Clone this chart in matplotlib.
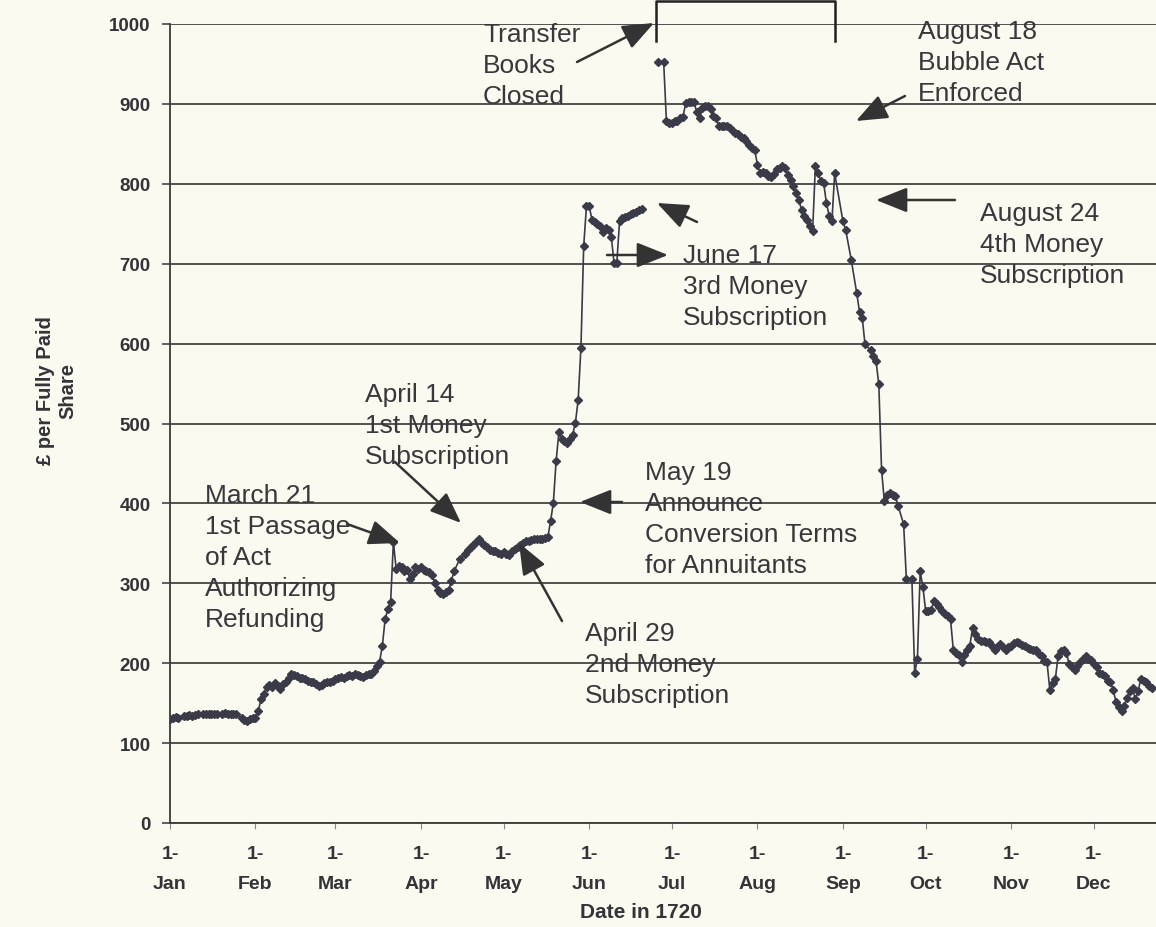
import numpy as np
import matplotlib
matplotlib.use("Agg")
import matplotlib.pyplot as plt
from matplotlib.lines import Line2D
from matplotlib.patches import FancyArrowPatch

plt.rcParams['font.family'] = ['Liberation Sans', 'DejaVu Sans']

# ---------------- data (days since 1 Jan 1720, price in £) ----------------
days_spring = [0, 1, 2, 3, 5, 6, 7, 8, 9, 10, 12, 13, 14, 15, 16, 17, 19, 20, 21, 22, 23, 24,
               26, 27, 28, 29, 30, 31, 32, 33, 34, 35, 36, 37, 38, 39, 40, 41, 42, 43, 44, 45,
               46, 47, 48, 49, 50, 51, 52, 53, 54, 55, 56, 57, 58, 59, 60, 61, 62, 63, 64, 65,
               66, 67, 68, 69, 70, 71, 72, 73, 74, 75, 76, 77, 78, 79, 80, 81, 82, 83, 84, 85,
               86, 87, 88, 89, 90, 91, 92, 93, 94, 95, 96, 97, 98, 99, 100, 101, 102, 103, 105,
               107, 108, 109, 110, 111, 112, 113, 114, 115, 116, 117, 118, 119, 120, 121, 122,
               123, 124, 125, 126, 127, 128, 129, 130, 131, 132, 133, 134, 135, 136, 137, 138,
               139, 140, 141, 142, 143, 144, 145, 146, 147, 148, 149, 150, 151, 152, 153, 154,
               155, 156, 157, 158, 159, 160, 161, 162, 163, 164, 165, 166, 167, 168, 169, 170, 171]
price_spring = [130, 132, 133, 132, 134, 134, 135, 134, 135, 136, 136, 137, 136, 137, 137, 136,
                137, 138, 137, 137, 136, 137, 132, 129, 128, 130, 131, 132, 140, 155, 162, 170,
                173, 170, 175, 172, 168, 174, 177, 182, 186, 185, 184, 182, 181, 180, 178, 177,
                176, 174, 172, 173, 175, 176, 177, 178, 180, 182, 183, 182, 184, 185, 184, 186,
                185, 184, 183, 185, 186, 187, 190, 196, 202, 222, 255, 268, 277, 352, 318, 322,
                320, 316, 317, 305, 312, 320, 318, 321, 317, 315, 314, 310, 301, 292, 288, 287,
                289, 291, 303, 315, 330, 337, 342, 345, 348, 352, 355, 351, 348, 345, 342, 340,
                340, 338, 337, 339, 337, 336, 340, 343, 346, 348, 350, 353, 353, 354, 355, 355,
                356, 356, 357, 358, 378, 401, 453, 489, 480, 478, 476, 480, 486, 501, 530, 595,
                722, 772, 772, 755, 752, 750, 747, 740, 745, 742, 734, 701, 701, 753, 757, 759,
                760, 762, 764, 765, 767, 768]

days_autumn = [177, 179, 180, 181, 182, 183, 184, 185, 186, 187, 188, 189, 190, 191, 192, 193,
               194, 195, 196, 197, 198, 199, 200, 201, 202, 203, 204, 205, 206, 207, 208, 209,
               210, 211, 212, 213, 214, 215, 216, 217, 218, 219, 220, 221, 222, 223, 224, 225,
               226, 227, 228, 229, 230, 231, 232, 233, 234, 235, 236, 237, 238, 239, 240, 241,
               244, 245, 247, 249, 250, 251, 252, 254, 255, 256, 257, 258, 259, 260, 261, 262,
               263, 264, 266, 267, 269, 270, 271, 272, 273, 274, 275, 276, 277, 278, 279, 280,
               281, 282, 283, 284, 285, 286, 287, 288, 289, 290, 291, 292, 293, 294, 295, 296,
               297, 298, 299, 300, 301, 302, 303, 304, 305, 306, 307, 308, 309, 310, 311, 312,
               313, 314, 315, 316, 317, 318, 319, 320, 321, 322, 323, 324, 325, 326, 327, 328,
               329, 330, 331, 332, 333, 334, 335, 336, 337, 338, 339, 340, 341, 342, 343, 344,
               345, 346, 347, 348, 349, 350, 351, 352, 353, 354, 355, 356]
price_autumn = [952, 952, 878, 876, 876, 878, 878, 882, 884, 901, 903, 903, 902, 890, 882, 895,
                897, 897, 893, 885, 882, 872, 872, 872, 872, 870, 866, 863, 862, 858, 857, 853,
                848, 845, 842, 824, 813, 815, 813, 810, 809, 812, 818, 820, 822, 820, 811, 805,
                797, 788, 780, 767, 760, 755, 747, 741, 822, 813, 803, 801, 776, 760, 753, 813,
                753, 742, 705, 663, 640, 632, 599, 592, 584, 578, 549, 442, 403, 410, 413, 411,
                409, 397, 374, 305, 305, 188, 205, 315, 295, 265, 265, 267, 278, 274, 270, 265,
                262, 259, 255, 217, 213, 210, 201, 210, 217, 222, 244, 236, 230, 228, 228, 227,
                226, 222, 217, 220, 224, 220, 217, 220, 222, 225, 226, 225, 223, 222, 219, 218,
                217, 217, 212, 209, 203, 201, 167, 175, 180, 209, 215, 217, 213, 199, 195, 192,
                197, 201, 205, 209, 205, 204, 199, 195, 188, 186, 184, 178, 176, 167, 151, 145,
                140, 147, 157, 165, 169, 155, 165, 180, 178, 176, 172, 169]

month_starts = [0, 31, 60, 91, 121, 152, 182, 213, 244, 274, 305, 335]
month_labels = ['1-\nJan', '1-\nFeb', '1-\nMar', '1-\nApr', '1-\nMay', '1-\nJun',
                '1-\nJul', '1-\nAug', '1-\nSep', '1-\nOct', '1-\nNov', '1-\nDec']
y_ticks = [0, 100, 200, 300, 400, 500, 600, 700, 800, 900, 1000]

# ---------------- figure ----------------
W, H = 1156, 928
BG = '#fbfaf0'
INK = '#333338'
LINE = '#3a3a48'

fig = plt.figure(figsize=(W / 100, H / 100), dpi=100, facecolor=BG)
ax_left, ax_bottom, ax_top = 170, 824, 25
ax = fig.add_axes([ax_left / W, (H - ax_bottom) / H, (W - ax_left) / W, (ax_bottom - ax_top) / H])
ax.set_facecolor(BG)

for d, p in ((days_spring, price_spring), (days_autumn, price_autumn)):
    ax.plot(d, p, color=LINE, lw=1.2, marker='D', markersize=4.2,
            markerfacecolor=LINE, markeredgecolor=LINE, zorder=3)

ax.set_ylim(0, 1000)
ax.set_xlim(0, (W - ax_left) / 2.758)
ax.set_yticks(y_ticks)
ax.set_yticklabels([str(v) for v in y_ticks], fontsize=13.5, fontweight='bold', color=INK)
ax.set_xticks(month_starts)
ax.set_xticklabels(month_labels, fontsize=14, fontweight='bold', color=INK, linespacing=1.98)
ax.yaxis.grid(True, color='#444444', lw=1.3)
ax.set_axisbelow(True)
ax.tick_params(axis='y', length=6, width=1.2, color='#444444', pad=8)
ax.tick_params(axis='x', length=4, width=0.8, color='#888888', pad=12)
for s in ('top', 'right'):
    ax.spines[s].set_visible(False)
for s in ('left', 'bottom'):
    ax.spines[s].set_color('#3a3a3a')
    ax.spines[s].set_linewidth(1.3)

fig.text(57 / W, 1 - 391 / H, '£ per Fully Paid\nShare', rotation=90, ha='center', va='center',
         fontsize=14.5, fontweight='bold', color=INK, multialignment='center', linespacing=1.25)
fig.text(641 / W, 1 - 913 / H, 'Date in 1720', ha='center', va='center',
         fontsize=15, fontweight='bold', color=INK)


def fpt(x, y):
    return (x / W, 1 - y / H)


ANN_FS = 19
notes = [
    (483, 33, 'Transfer\nBooks\nClosed'),
    (918, 30, 'August 18\nBubble Act\nEnforced'),
    (980, 212, 'August 24\n4th Money\nSubscription'),
    (683, 254, 'June 17\n3rd Money\nSubscription'),
    (645, 471, 'May 19\nAnnounce\nConversion Terms\nfor Annuitants'),
    (585, 632, 'April 29\n2nd Money\nSubscription'),
    (365, 393, 'April 14\n1st Money\nSubscription'),
    (205, 494, 'March 21\n1st Passage\nof Act\nAuthorizing\nRefunding'),
]
for x, yc, t in notes:
    fig.text(*fpt(x, yc - 10), t, ha='left', va='top', fontsize=ANN_FS,
             color='#38383c', linespacing=1.37)

arrows = [
    ((577, 63), (654, 24)),
    ((905, 97), (856, 122)),
    ((955, 201), (876, 201)),
    ((607, 256), (668, 256)),
    ((697, 223), (657, 204)),
    ((622, 503), (580, 503)),
    ((562, 622), (519, 544)),
    ((395, 463), (461, 524)),
    ((347, 525), (400, 544)),
]
for tail, tip in arrows:
    fig.add_artist(FancyArrowPatch(
        fpt(*tail), fpt(*tip), transform=fig.transFigure,
        arrowstyle='-|>,head_length=0.55,head_width=0.22', mutation_scale=35,
        color='#333333', lw=1.8, shrinkA=0, shrinkB=0))

bx = [656, 656, 835, 835]
by = [42, 2, 2, 42]
fig.add_artist(Line2D([v / W for v in bx], [1 - v / H for v in by], transform=fig.transFigure,
                      color='#222222', lw=1.8))

fig.savefig('out.png', dpi=100, facecolor=BG)
